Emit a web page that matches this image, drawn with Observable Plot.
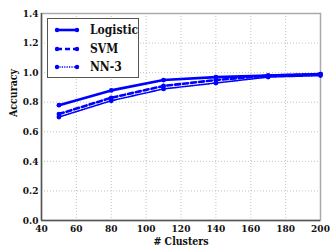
<!DOCTYPE html>
<html>
<head>
<meta charset="utf-8">
<script src="https://cdn.jsdelivr.net/npm/d3@7"></script>
<script src="https://cdn.jsdelivr.net/npm/@observablehq/plot@0.6"></script>
<style>
  html, body { margin: 0; padding: 0; background: #fff; }
  #wrap { position: relative; width: 330px; height: 251px; }
  #legend { position: absolute; left: 47px; top: 18px; width: 92px; height: 60px;
    border: 1px solid #555; background: #fff; box-sizing: border-box;
    font-family: "DejaVu Serif Condensed", "DejaVu Serif", serif; font-stretch: condensed; font-weight: bold; font-size: 12px; color: #111; }
  .row { position: absolute; left: 0; height: 18px; display: flex; align-items: center; }
  .row svg { margin-left: 6px; margin-right: 10px; }
  svg text { font-stretch: condensed; }
</style>
</head>
<body>
<div id="wrap"></div>
<script>
const clusters = [50, 80, 110, 140, 170, 200];
const logistic = [0.78, 0.88, 0.95, 0.97, 0.98, 0.99];
const svm      = [0.72, 0.83, 0.91, 0.95, 0.98, 0.99];
const nn3      = [0.70, 0.81, 0.89, 0.93, 0.97, 0.98];
const seriesNames = ["Logistic", "SVM", "NN-3"];
const xTicks = [40, 60, 80, 100, 120, 140, 160, 180, 200];
const yTicks = [0.0, 0.2, 0.4, 0.6, 0.8, 1.0, 1.2, 1.4];

const styles = {
  "Logistic": {w: 2.6, dash: null},
  "SVM": {w: 2.6, dash: "5,3"},
  "NN-3": {w: 1.6, dash: "1.2,1.2"}
};
const allVals = [logistic, svm, nn3];
const data = [];
seriesNames.forEach((s, i) => clusters.forEach((c, j) => data.push({series: s, x: c, y: allVals[i][j]})));

const lineMarks = seriesNames.flatMap(s => [
  Plot.line(data.filter(d => d.series === s), {x: "x", y: "y", stroke: "#0000ff",
    strokeWidth: styles[s].w, strokeDasharray: styles[s].dash}),
  Plot.dot(data.filter(d => d.series === s), {x: "x", y: "y", fill: "#0000ff", r: 2.4})
]);

const font = "'DejaVu Serif Condensed', 'DejaVu Serif', serif";
const chart = Plot.plot({
  width: 330, height: 251,
  marginLeft: 41, marginRight: 10, marginTop: 13, marginBottom: 31,
  style: {fontFamily: font, fontWeight: "bold", fontSize: "10px", color: "#111", background: "#fff"},
  x: {domain: [40, 200], ticks: xTicks, tickFormat: d => d, label: null},
  y: {domain: [0, 1.4], ticks: yTicks, tickFormat: d => d.toFixed(1), label: null},
  marks: [
    Plot.gridX(xTicks, {stroke: "#b0b0b0", strokeOpacity: 1, strokeDasharray: "1,2", strokeWidth: 0.8}),
    Plot.gridY(yTicks, {stroke: "#b0b0b0", strokeOpacity: 1, strokeDasharray: "1,2", strokeWidth: 0.8}),
    Plot.frame({stroke: "#aaa", strokeWidth: 1.5}),
    Plot.ruleX([40], {stroke: "#555", strokeWidth: 1.5}),
    Plot.ruleY([0], {stroke: "#555", strokeWidth: 1.5}),
    Plot.axisX(xTicks, {tickSize: 0, tickPadding: 4, fontSize: 10, fontWeight: "bold"}),
    Plot.axisY(yTicks, {tickSize: 0, tickPadding: 3, fontSize: 10, fontWeight: "bold", tickFormat: d => d.toFixed(1)}),
    Plot.text(["# Clusters"], {frameAnchor: "bottom", dy: 24, fontSize: 10.5, fontWeight: "bold", fill: "#111"}),
    Plot.text(["Accuracy"], {frameAnchor: "left", dx: -28, rotate: -90, fontSize: 10.5, fontWeight: "bold", fill: "#111"}),
    ...lineMarks
  ]
});
const wrap = document.getElementById("wrap");
wrap.appendChild(chart);

const legend = document.createElement("div");
legend.id = "legend";
seriesNames.forEach((s, i) => {
  const row = document.createElement("div");
  row.className = "row";
  row.style.top = (2 + i * 18.5) + "px";
  const st = styles[s];
  row.innerHTML = `<svg width="26" height="10"><line x1="3" x2="23" y1="5" y2="5" stroke="#0000ff" stroke-width="${st.w}" ${st.dash ? `stroke-dasharray="${st.dash}"` : ""}/><circle cx="3" cy="5" r="2.2" fill="#0000ff"/><circle cx="23" cy="5" r="2.2" fill="#0000ff"/></svg><span>${s}</span>`;
  legend.appendChild(row);
});
wrap.appendChild(legend);
</script>
</body>
</html>
